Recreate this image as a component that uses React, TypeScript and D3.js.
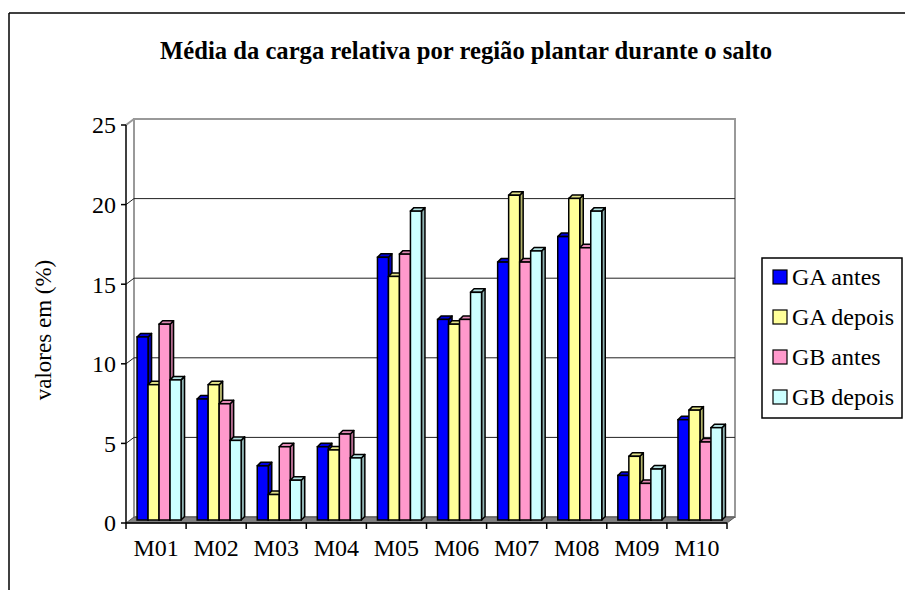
import React from "react";
import * as d3 from "d3";

const categories = ["M01", "M02", "M03", "M04", "M05", "M06", "M07", "M08", "M09", "M10"];
const seriesNames = ["GA antes", "GA depois", "GB antes", "GB depois"];
const gaAntes = [11.5, 7.6, 3.4, 4.6, 16.5, 12.6, 16.2, 17.8, 2.8, 6.3];
const gaDepois = [8.5, 8.5, 1.6, 4.4, 15.3, 12.3, 20.4, 20.2, 4.0, 6.9];
const gbAntes = [12.3, 7.3, 4.6, 5.4, 16.7, 12.6, 16.2, 17.1, 2.3, 4.9];
const gbDepois = [8.8, 5.0, 2.5, 3.9, 19.4, 14.3, 16.9, 19.4, 3.2, 5.8];
const yTicks = [0, 5, 10, 15, 20, 25];
const colors = ["#0000FF", "#FFFF99", "#FF99CC", "#CCFFFF"];

const allSeries = [gaAntes, gaDepois, gbAntes, gbDepois];

const FONT = "Liberation Serif";

export default function App() {
  const W = 905, H = 590;
  const x0 = 126, x1 = 727;
  const yBase = 523, yTop = 125;
  const DX = 8, DY = -6;
  const bdx = 3, bdy = -3;
  const bDepthX = 3.5, bDepthY = -3.5;

  const x = d3.scaleBand<string>().domain(categories).range([x0, x1]).paddingInner(0).paddingOuter(0);
  const y = d3.scaleLinear().domain([0, 25]).range([yBase, yTop]);
  const groupW = 44;
  const xs = d3.scaleBand<number>().domain([0, 1, 2, 3]).range([0, groupW]).padding(0);

  const faces: JSX.Element[] = [];
  categories.forEach((c, ci) => {
    const gx = (x(c) as number) + (x.bandwidth() - groupW) / 2 + bdx;
    allSeries.forEach((s, si) => {
      const v = s[ci];
      const lx = gx + (xs(si) as number);
      const rx = lx + xs.bandwidth();
      const ty = y(v) + bdy;
      const by = y(0) + bdy;
      const col = d3.color(colors[si])!;
      const side = d3.rgb(col).darker(1.0).toString();
      const top = d3.rgb(col).darker(0.35).toString();
      const sw = 1.5;
      faces.push(
        <g key={`${ci}-${si}`}>
          <polygon
            points={`${rx},${ty} ${rx + bDepthX},${ty + bDepthY} ${rx + bDepthX},${by + bDepthY} ${rx},${by}`}
            fill={side}
            stroke="#000"
            strokeWidth={sw}
            strokeLinejoin="round"
          />
          <polygon
            points={`${lx},${ty} ${lx + bDepthX},${ty + bDepthY} ${rx + bDepthX},${ty + bDepthY} ${rx},${ty}`}
            fill={top}
            stroke="#000"
            strokeWidth={sw}
            strokeLinejoin="round"
          />
          <rect x={lx} y={ty} width={rx - lx} height={by - ty} fill={colors[si]} stroke="#000" strokeWidth={sw} />
        </g>
      );
    });
  });

  return (
    <svg width={W} height={H} style={{ position: "absolute", left: 0, top: 0, background: "#fff" }}>
      <rect x={0} y={0} width={W} height={H} fill="#fff" />
      <line x1={9} y1={13} x2={W} y2={13} stroke="#000" strokeWidth={1.5} />
      <line x1={9} y1={13} x2={9} y2={H} stroke="#000" strokeWidth={1.5} />

      <text
        x={466}
        y={59}
        textAnchor="middle"
        fontWeight="bold"
        fontSize={26}
        fontFamily={FONT}
        textLength={612}
        lengthAdjust="spacingAndGlyphs"
      >
        Média da carga relativa por região plantar durante o salto
      </text>

      <polygon
        points={`${x0 + DX},${yTop + DY} ${x1 + DX},${yTop + DY} ${x1 + DX},${yBase + DY} ${x0 + DX},${yBase + DY}`}
        fill="#fff"
        stroke="#999"
        strokeWidth={2}
      />
      {yTicks.filter((t) => t > 0 && t < 25).map((t) => (
        <polyline
          key={t}
          points={`${x0},${y(t)} ${x0 + DX},${y(t) + DY} ${x1 + DX},${y(t) + DY}`}
          fill="none"
          stroke="#222"
          strokeWidth={1}
        />
      ))}
      <line x1={x0} y1={yTop} x2={x0 + DX} y2={yTop + DY} stroke="#999" strokeWidth={2} />

      <polygon
        points={`${x0},${yBase} ${x1},${yBase} ${x1 + DX},${yBase + DY} ${x0 + DX},${yBase + DY}`}
        fill="#808080"
        stroke="#555"
        strokeWidth={1}
      />

      {faces}

      <line x1={x0} y1={yTop} x2={x0} y2={yBase} stroke="#000" strokeWidth={1.5} />
      {yTicks.map((t) => (
        <g key={t}>
          <line x1={x0 - 5} y1={y(t)} x2={x0} y2={y(t)} stroke="#000" strokeWidth={1.5} />
          <text x={116} y={y(t)} dy="0.35em" textAnchor="end" fontSize={24} fontFamily={FONT}>
            {t}
          </text>
        </g>
      ))}

      <line x1={x0} y1={yBase} x2={x1} y2={yBase} stroke="#000" strokeWidth={1.5} />
      {[...categories.map((c) => x(c) as number), x1].map((tx, i) => (
        <line key={i} x1={tx} y1={yBase} x2={tx} y2={yBase + 6} stroke="#000" strokeWidth={1.5} />
      ))}
      {categories.map((c) => (
        <text key={c} x={(x(c) as number) + x.bandwidth() / 2} y={556} textAnchor="middle" fontSize={24} fontFamily={FONT}>
          {c}
        </text>
      ))}

      <text transform="translate(51,330) rotate(-90)" textAnchor="middle" fontSize={23} fontFamily={FONT}>
        valores em (%)
      </text>

      <rect x={762} y={258} width={140} height={160} fill="#fff" stroke="#000" strokeWidth={1.5} />
      {seriesNames.map((n, i) => {
        const cy = 277 + i * 40;
        return (
          <g key={n}>
            <rect x={773} y={cy - 7} width={14} height={14} fill={colors[i]} stroke="#000" strokeWidth={1.2} />
            <text x={792} y={cy} dy="0.35em" fontSize={24} fontFamily={FONT}>
              {n}
            </text>
          </g>
        );
      })}
    </svg>
  );
}
